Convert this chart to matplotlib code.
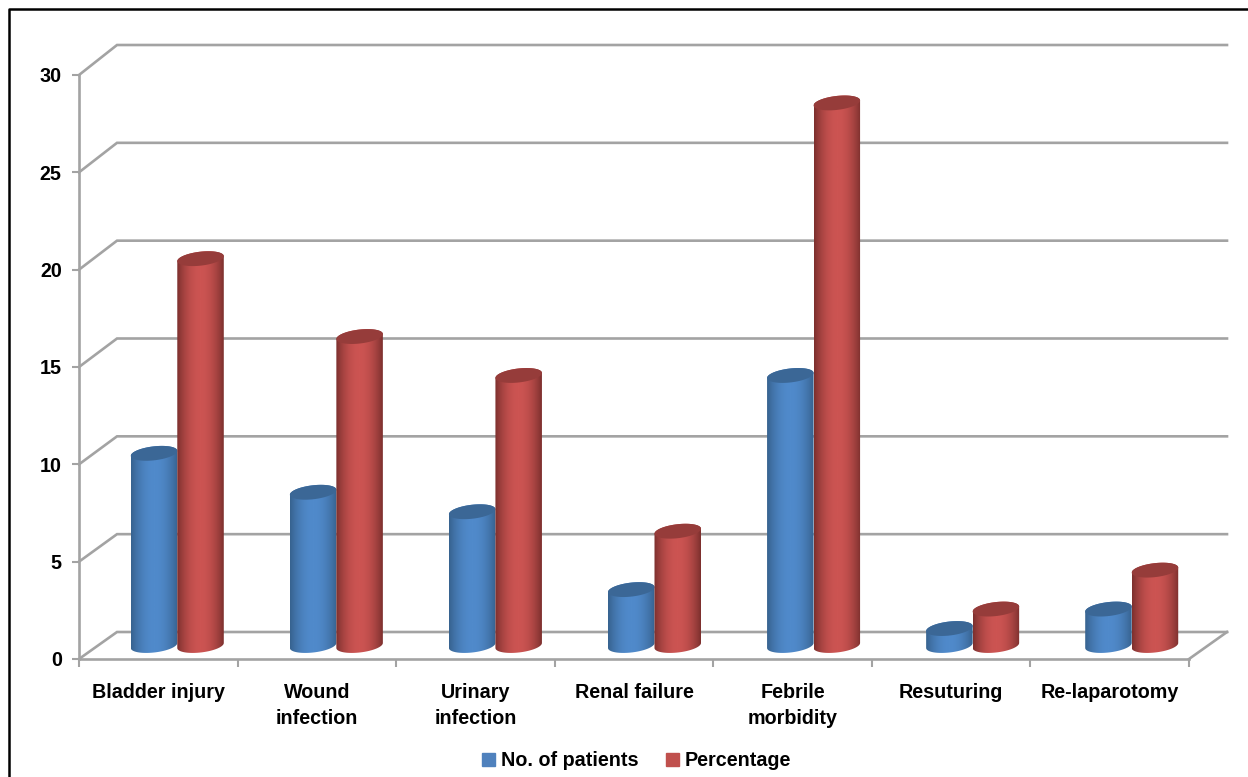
import numpy as np
import matplotlib
matplotlib.use('Agg')
import matplotlib.pyplot as plt
from matplotlib.patches import Patch, PathPatch
from matplotlib.path import Path
from matplotlib.colors import LinearSegmentedColormap

categories = ['Bladder injury', 'Wound\ninfection', 'Urinary\ninfection', 'Renal failure',
              'Febrile\nmorbidity', 'Resuturing', 'Re-laparotomy']
patients = [10, 8, 7, 3, 14, 1, 2]
percentage = [20, 16, 14, 6, 28, 2, 4]
y_ticks = [0, 5, 10, 15, 20, 25, 30]

plt.rcParams['font.family'] = ['Liberation Sans Narrow', 'Liberation Sans', 'DejaVu Sans']
plt.rcParams['font.weight'] = 'bold'

W, H = 1248, 777
fig = plt.figure(figsize=(W / 100, H / 100), dpi=100)
ax = fig.add_axes([79 / W, 1 - 659 / H, (1189 - 79) / W, (659 - 75) / H])
ax.set_xlim(0, 7)
ax.set_ylim(0, 30)

# pixel sizes in data units
px_x = 7 / 1110
px_y = 30 / 584

# 3d look: depth offset of the back wall
dx = 38 * px_x
dy = 27 * px_y
grid_col = '#a3a3a3'

for v in y_ticks:
    # back wall is a little taller than the front edge
    back = v * (1 + 3 / 584) + dy
    ax.plot([0, dx, 7 + dx], [v, back, back], color=grid_col, lw=1.9, clip_on=False, zorder=1,
            solid_joinstyle='miter')
ax.plot([7, 7 + dx], [0, dy], color=grid_col, lw=1.9, clip_on=False, zorder=1)

ax.spines[['top', 'right']].set_visible(False)
ax.spines[['left', 'bottom']].set_color(grid_col)
ax.spines[['left', 'bottom']].set_linewidth(1.9)
ax.set_yticks(y_ticks)
ax.set_xticks(range(8))
ax.set_xticks(np.arange(7) + 0.5, categories, minor=True)
ax.tick_params(axis='x', which='major', length=6, width=1.5, color=grid_col, labelbottom=False)
ax.tick_params(axis='x', which='minor', length=0, pad=17.5, labelsize=14.2)
ax.tick_params(axis='y', length=5, width=1.5, color=grid_col, labelsize=14.2, pad=7.5)
for t in ax.get_xticklabels(minor=True):
    t.set_linespacing(1.44)

# cylinder size
rx = 23.25 * px_x
ry = 7 * px_y
tilt = 2.5 * px_y


def ell(cx, cy, t):
    return cx + rx * np.cos(t), cy + ry * np.sin(t) + tilt * np.cos(t)


def cylinder(cx, val, edge, mid, top):
    y0 = dy / 2
    y1 = val + dy / 2 - 2.5 * px_y
    # body outline: lower half of base, then back across the top
    t_low = np.linspace(np.pi, 2 * np.pi, 40)
    t_up = np.linspace(0, np.pi, 40)
    xb, yb = ell(cx, y0, t_low)
    xt, yt = ell(cx, y1, t_up)
    verts = np.column_stack([np.r_[xb, xt], np.r_[yb, yt]])
    clip = PathPatch(Path(np.vstack([verts, verts[0]]), closed=True), transform=ax.transData,
                     fc='none', ec='none')
    ax.add_patch(clip)
    grad = np.array([1 - np.abs(np.linspace(-1, 1, 128)) ** 2.0])
    im = ax.imshow(grad, cmap=LinearSegmentedColormap.from_list('c', [edge, mid]), aspect='auto',
                   extent=[cx - rx, cx + rx, y0 - ry - 1, y1 + ry + 1], zorder=3)
    im.set_clip_path(clip)
    xe, ye = ell(cx, y1, np.linspace(0, 2 * np.pi, 80))
    ax.fill(xe, ye, color=top, zorder=3, clip_on=False, lw=0)


blue = ('#37628f', '#508ACB', '#3B6796')
red = ('#7c302e', '#CC5452', '#963C3A')
for i in range(7):
    # bars sit half way back, spaced slightly wider than the ticks
    cx = i + 0.5 + dx / 2 + i * 0.5 * px_x
    cylinder(cx - rx, patients[i], *blue)
    cylinder(cx + rx, percentage[i], *red)
ax.set_xlim(0, 7)
ax.set_ylim(0, 30)

handles = [Patch(color='#4F81BD', label='No. of patients'), Patch(color='#C0504D', label='Percentage')]
fig.legend(handles=handles, loc='center', bbox_to_anchor=(636.5 / W, 1 - 761 / H), ncol=2, frameon=False,
           fontsize=14.2, handlelength=0.66, handleheight=0.66, handletextpad=0.3, columnspacing=1.37)

# outer frame of the picture
fig.add_artist(plt.Line2D([8.8 / W, 8.8 / W, 1], [0, 1 - 9 / H, 1 - 9 / H], color='black', lw=1.8))

fig.savefig('out.png', dpi=100)
